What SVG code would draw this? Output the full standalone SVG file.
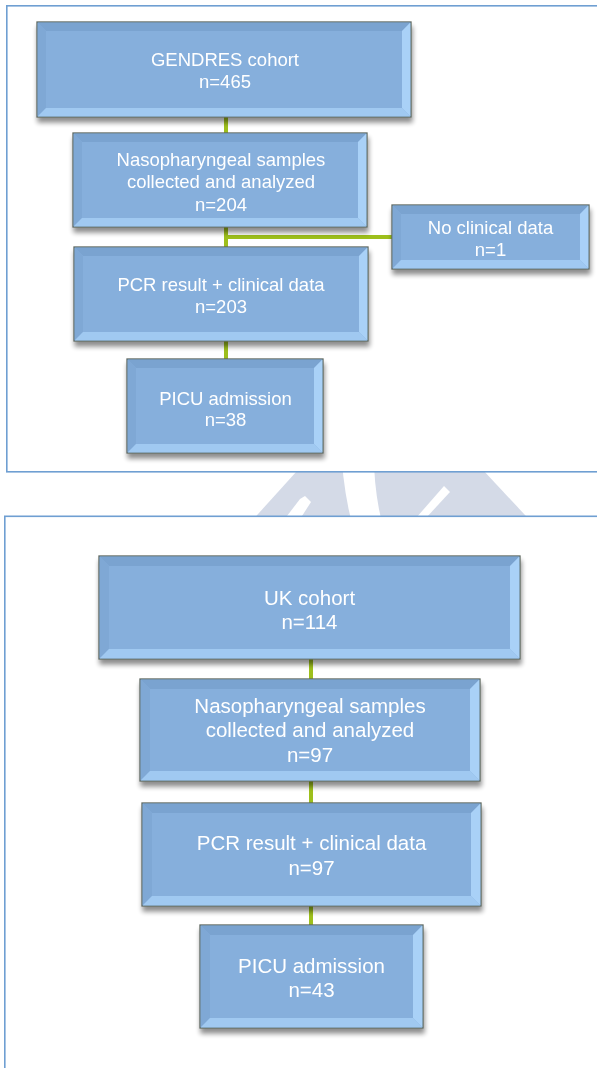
<svg xmlns="http://www.w3.org/2000/svg" width="597" height="1068" viewBox="0 0 597 1068">
<defs>
<style>
.panel{fill:#ffffff;stroke:#6f9fd2;stroke-width:1.6}
.wm{fill:#d4dae7}
.wmw{fill:#ffffff}
.face{fill:#86afdc;stroke:#5c675f;stroke-width:1.3}
.bt{fill:#7aa3d0}
.bl{fill:#7fa8d5}
.br{fill:#a9d1f7}
.bb{fill:#a0c9f1}
.conn{stroke:#9dbf1c;stroke-width:4;fill:none}
.t1{font-family:"Liberation Sans",Arial,sans-serif;font-size:18.5px;fill:#ffffff;text-anchor:middle}
.t2{font-family:"Liberation Sans",Arial,sans-serif;font-size:20.5px;fill:#ffffff;text-anchor:middle}
</style>
<filter id="sh" x="-10%" y="-20%" width="120%" height="150%">
<feGaussianBlur in="SourceAlpha" stdDeviation="2.5"/>
<feOffset dx="1" dy="5" result="b"/>
<feComponentTransfer><feFuncA type="linear" slope="0.45"/></feComponentTransfer>
<feMerge><feMergeNode/><feMergeNode in="SourceGraphic"/></feMerge>
</filter>
</defs>
<rect x="0" y="0" width="597" height="1068" fill="#ffffff"/>
<g id="watermark">
<polygon class="wm" points="230,545 325,440 455,440 553,545"/>
<path class="wmw" d="M341,440 Q342,495 358,545 L388,545 Q372,495 374,440 Z"/>
<polygon class="wmw" points="300,499 305,496 311,502 302,516 287,516"/>
<polygon class="wmw" points="444,486 450,492 426,518 416,518"/>
</g>
<rect class="panel" x="6.8" y="5.8" width="600" height="466"/>
<rect class="panel" x="4.8" y="516.3" width="600" height="560"/>
<g id="connectors">
<line class="conn" x1="226" y1="117" x2="226" y2="133"/>
<line class="conn" x1="226" y1="227" x2="226" y2="247"/>
<line class="conn" x1="226" y1="237" x2="392" y2="237"/>
<line class="conn" x1="226" y1="341" x2="226" y2="359"/>
<line class="conn" x1="311" y1="659" x2="311" y2="679"/>
<line class="conn" x1="311" y1="781" x2="311" y2="803"/>
<line class="conn" x1="311" y1="906" x2="311" y2="925"/>
</g>
<g id="n1" filter="url(#sh)">
<rect class="face" x="37" y="22" width="374" height="95"/>
<polygon class="bt" points="37.6,22.6 410.4,22.6 402,31 46,31"/>
<polygon class="bl" points="37.6,22.6 46,31 46,108 37.6,116.4"/>
<polygon class="br" points="410.4,22.6 410.4,116.4 402,108 402,31"/>
<polygon class="bb" points="37.6,116.4 46,108 402,108 410.4,116.4"/>
<text class="t1" x="225" y="66">GENDRES cohort</text>
<text class="t1" x="225" y="88">n=465</text>
</g>
<g id="n2" filter="url(#sh)">
<rect class="face" x="73" y="133" width="294" height="94"/>
<polygon class="bt" points="73.6,133.6 366.4,133.6 358,142 82,142"/>
<polygon class="bl" points="73.6,133.6 82,142 82,218 73.6,226.4"/>
<polygon class="br" points="366.4,133.6 366.4,226.4 358,218 358,142"/>
<polygon class="bb" points="73.6,226.4 82,218 358,218 366.4,226.4"/>
<text class="t1" x="221" y="166">Nasopharyngeal samples</text>
<text class="t1" x="221" y="188">collected and analyzed</text>
<text class="t1" x="221" y="211">n=204</text>
</g>
<g id="n3" filter="url(#sh)">
<rect class="face" x="392" y="205" width="197" height="64"/>
<polygon class="bt" points="392.6,205.6 588.4,205.6 580,214 401,214"/>
<polygon class="bl" points="392.6,205.6 401,214 401,260 392.6,268.4"/>
<polygon class="br" points="588.4,205.6 588.4,268.4 580,260 580,214"/>
<polygon class="bb" points="392.6,268.4 401,260 580,260 588.4,268.4"/>
<text class="t1" x="490.5" y="234">No clinical data</text>
<text class="t1" x="490.5" y="256">n=1</text>
</g>
<g id="n4" filter="url(#sh)">
<rect class="face" x="74" y="247" width="294" height="94"/>
<polygon class="bt" points="74.6,247.6 367.4,247.6 359,256 83,256"/>
<polygon class="bl" points="74.6,247.6 83,256 83,332 74.6,340.4"/>
<polygon class="br" points="367.4,247.6 367.4,340.4 359,332 359,256"/>
<polygon class="bb" points="74.6,340.4 83,332 359,332 367.4,340.4"/>
<text class="t1" x="221" y="291">PCR result + clinical data</text>
<text class="t1" x="221" y="313">n=203</text>
</g>
<g id="n5" filter="url(#sh)">
<rect class="face" x="127" y="359" width="196" height="94"/>
<polygon class="bt" points="127.6,359.6 322.4,359.6 314,368 136,368"/>
<polygon class="bl" points="127.6,359.6 136,368 136,444 127.6,452.4"/>
<polygon class="br" points="322.4,359.6 322.4,452.4 314,444 314,368"/>
<polygon class="bb" points="127.6,452.4 136,444 314,444 322.4,452.4"/>
<text class="t1" x="225.5" y="405">PICU admission</text>
<text class="t1" x="225.5" y="426">n=38</text>
</g>
<g id="m1" filter="url(#sh)">
<rect class="face" x="99" y="556" width="421" height="103"/>
<polygon class="bt" points="99.6,556.6 519.4,556.6 510,566 109,566"/>
<polygon class="bl" points="99.6,556.6 109,566 109,649 99.6,658.4"/>
<polygon class="br" points="519.4,556.6 519.4,658.4 510,649 510,566"/>
<polygon class="bb" points="99.6,658.4 109,649 510,649 519.4,658.4"/>
<text class="t2" x="309.5" y="605">UK cohort</text>
<text class="t2" x="309.5" y="629">n=114</text>
</g>
<g id="m2" filter="url(#sh)">
<rect class="face" x="140" y="679" width="340" height="102"/>
<polygon class="bt" points="140.6,679.6 479.4,679.6 470,689 150,689"/>
<polygon class="bl" points="140.6,679.6 150,689 150,771 140.6,780.4"/>
<polygon class="br" points="479.4,679.6 479.4,780.4 470,771 470,689"/>
<polygon class="bb" points="140.6,780.4 150,771 470,771 479.4,780.4"/>
<text class="t2" x="310" y="713">Nasopharyngeal samples</text>
<text class="t2" x="310" y="737">collected and analyzed</text>
<text class="t2" x="310" y="762">n=97</text>
</g>
<g id="m3" filter="url(#sh)">
<rect class="face" x="142" y="803" width="339" height="103"/>
<polygon class="bt" points="142.6,803.6 480.4,803.6 471,813 152,813"/>
<polygon class="bl" points="142.6,803.6 152,813 152,896 142.6,905.4"/>
<polygon class="br" points="480.4,803.6 480.4,905.4 471,896 471,813"/>
<polygon class="bb" points="142.6,905.4 152,896 471,896 480.4,905.4"/>
<text class="t2" x="311.5" y="850">PCR result + clinical data</text>
<text class="t2" x="311.5" y="875">n=97</text>
</g>
<g id="m4" filter="url(#sh)">
<rect class="face" x="200" y="925" width="223" height="103"/>
<polygon class="bt" points="200.6,925.6 422.4,925.6 413,935 210,935"/>
<polygon class="bl" points="200.6,925.6 210,935 210,1018 200.6,1027.4"/>
<polygon class="br" points="422.4,925.6 422.4,1027.4 413,1018 413,935"/>
<polygon class="bb" points="200.6,1027.4 210,1018 413,1018 422.4,1027.4"/>
<text class="t2" x="311.5" y="973">PICU admission</text>
<text class="t2" x="311.5" y="997">n=43</text>
</g>
</svg>
